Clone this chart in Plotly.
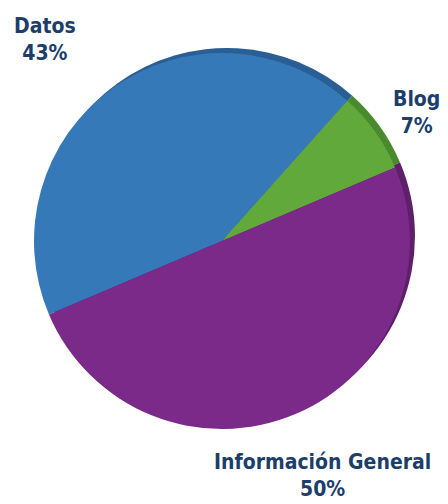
import plotly.graph_objects as go

labels = ["Datos", "Blog", "Información General"]
values = [43, 7, 50]
pct_text = ["43%", "7%", "50%"]
colors = ["#3579b8", "#62a93b", "#7b2a8a"]
rim_colors = ["#2a5f95", "#4a8a2e", "#5e1f6b"]

cx, cy, r = 222, 263, 188
W, H = 448, 504
dom_x = [(cx - r) / W, (cx + r) / W]
dom_y = [(cy - r) / H, (cy + r) / H]
off_x, off_y = 5 / W, 5 / H

fig = go.Figure()
fig.add_trace(go.Pie(
    labels=labels, values=values, sort=False, direction="clockwise", rotation=-113,
    marker=dict(colors=rim_colors, line=dict(width=0)),
    textinfo="none", hoverinfo="skip", showlegend=False,
    domain=dict(x=[dom_x[0] + off_x, dom_x[1] + off_x], y=[dom_y[0] + off_y, dom_y[1] + off_y]),
))
fig.add_trace(go.Pie(
    labels=labels, values=values, sort=False, direction="clockwise", rotation=-113,
    marker=dict(colors=colors, line=dict(width=0)),
    textinfo="none", showlegend=False,
    domain=dict(x=dom_x, y=dom_y),
))

label_pos = [(45, 40), (416, 112), (322, 475)]
for lab, pt, (px, py) in zip(labels, pct_text, label_pos):
    fig.add_annotation(
        x=px / W, y=1 - py / H, xref="paper", yref="paper",
        text=f"<b>{lab}<br>{pt}</b>", showarrow=False, align="center",
        xanchor="center", yanchor="middle",
        font=dict(family="DejaVu Sans Condensed, Liberation Sans Narrow, Arial Narrow, sans-serif",
                  size=21, color="#1c3e6b"),
    )

fig.update_layout(
    width=W, height=H, margin=dict(l=0, r=0, t=0, b=0),
    paper_bgcolor="white", plot_bgcolor="white",
)
fig.write_html(
    "out.html",
    config={"displayModeBar": False},
    post_script="document.body.style.margin='0';document.body.style.overflow='hidden';",
)
